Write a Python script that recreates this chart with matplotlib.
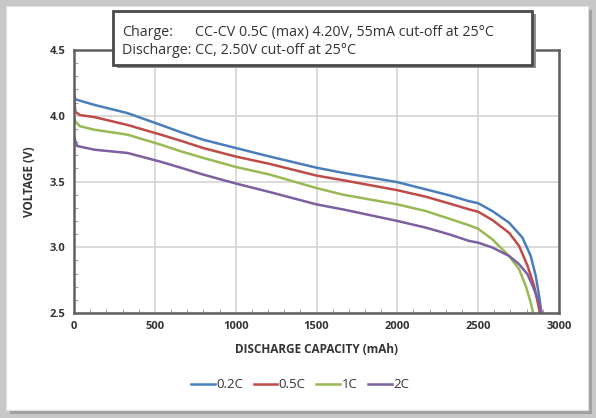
import matplotlib
matplotlib.use('Agg')
import matplotlib.pyplot as plt
from matplotlib.patches import Rectangle
from matplotlib.ticker import MultipleLocator, FormatStrFormatter

plt.rcParams['font.family'] = ['Open Sans', 'DejaVu Sans']

# discharge curves (mAh, V)
cap_02 = [0, 8, 125, 331, 537, 660, 798, 1000, 1210, 1500, 1663, 2000, 2177, 2321, 2444, 2500,
          2588, 2691, 2774, 2825, 2856, 2877, 2891]
v_02 = [4.16, 4.125, 4.083, 4.02, 3.93, 3.875, 3.818, 3.755, 3.69, 3.605, 3.566, 3.495, 3.44, 3.395,
        3.35, 3.335, 3.275, 3.187, 3.073, 2.934, 2.783, 2.63, 2.5]

cap_05 = [0, 8, 37, 125, 331, 537, 660, 798, 1000, 1210, 1500, 1663, 2000, 2177, 2321, 2444, 2500,
          2588, 2691, 2753, 2805, 2846, 2872, 2881]
v_05 = [4.18, 4.03, 4.005, 3.99, 3.93, 3.856, 3.81, 3.755, 3.69, 3.634, 3.545, 3.51, 3.434, 3.384,
        3.333, 3.288, 3.27, 3.207, 3.11, 3.01, 2.86, 2.707, 2.56, 2.5]

cap_1 = [0, 8, 37, 125, 331, 537, 660, 798, 1000, 1210, 1500, 1663, 2000, 2177, 2321, 2444, 2500,
         2588, 2691, 2753, 2794, 2825, 2840]
v_1 = [3.99, 3.957, 3.92, 3.894, 3.856, 3.78, 3.73, 3.68, 3.611, 3.553, 3.45, 3.40, 3.326, 3.275,
       3.217, 3.167, 3.14, 3.06, 2.934, 2.833, 2.707, 2.58, 2.5]

cap_2 = [0, 5, 20, 125, 331, 537, 660, 798, 1000, 1210, 1500, 1663, 2000, 2177, 2321, 2444, 2500,
         2588, 2691, 2753, 2805, 2846, 2877, 2893]
v_2 = [3.85, 3.82, 3.77, 3.742, 3.717, 3.65, 3.605, 3.553, 3.485, 3.42, 3.326, 3.288, 3.20, 3.149,
       3.098, 3.048, 3.035, 2.998, 2.934, 2.871, 2.795, 2.68, 2.58, 2.5]

labels = ['0.2C', '0.5C', '1C', '2C']
colors = ['#4a7ebb', '#be4b48', '#98b954', '#7d60a0']

fig = plt.figure(figsize=(5.96, 4.18), dpi=100, facecolor='#c8c8c8')

# white panel with shadow (behind everything)
fig.patches.append(Rectangle((10/596, 4/418), 582/596, 404/418, transform=fig.transFigure,
                             facecolor='#a0a0a0', edgecolor='none', zorder=-3))
fig.patches.append(Rectangle((6/596, 8/418), 582/596, 404/418, transform=fig.transFigure,
                             facecolor='white', edgecolor='#e0e0e0', lw=0.8, zorder=-2))

ax = fig.add_axes([74/596, 1 - 313/418, 485/596, 263/418])
ax.patch.set_alpha(0)
for c, v, lab, col in zip([cap_02, cap_05, cap_1, cap_2], [v_02, v_05, v_1, v_2], labels, colors):
    ax.plot(c, v, '-', color=col, lw=1.8, label=lab)

ax.set_xlim(0, 3000)
ax.set_ylim(2.5, 4.5)
ax.xaxis.set_major_locator(MultipleLocator(500))
ax.yaxis.set_major_locator(MultipleLocator(0.5))
ax.xaxis.set_minor_locator(MultipleLocator(100))
ax.yaxis.set_minor_locator(MultipleLocator(0.1))
ax.yaxis.set_major_formatter(FormatStrFormatter('%.1f'))
ax.grid(True, which='major', color='#d4d4d4', lw=1.2)
ax.set_axisbelow(True)
ax.tick_params(which='major', length=0, pad=6, labelsize=8, labelcolor='#333333')
ax.tick_params(which='minor', direction='in', length=3, color='#909090')
for t in ax.get_xticklabels() + ax.get_yticklabels():
    t.set_fontweight('bold')
for s in ax.spines.values():
    s.set_color('#606060')
    s.set_linewidth(1.8)

ax.set_xlabel('DISCHARGE CAPACITY (mAh)', fontsize=8.5, fontweight='bold', color='#333333', labelpad=8)
ax.set_ylabel('VOLTAGE (V)', fontsize=8.5, fontweight='bold', color='#333333', labelpad=10)

fig.legend(loc='center', bbox_to_anchor=(300/596, 1 - 385/418), ncol=4, frameon=False,
           fontsize=9.5, handlelength=1.8, handletextpad=0.1, columnspacing=0.8,
           labelcolor='#333333')

# conditions box
fig.patches.append(Rectangle((117/596, 1 - 68/418), 419/596, 54/418, transform=fig.transFigure,
                             facecolor='#909090', edgecolor='none', zorder=5))
fig.patches.append(Rectangle((113/596, 1 - 65/418), 419/596, 54/418, transform=fig.transFigure,
                             facecolor='white', edgecolor='#4a4a4a', lw=2, zorder=6))
box_font = dict(fontsize=10.3, color='#333333', va='baseline', zorder=7)
fig.text(122/596, 1 - 36/418, 'Charge:', **box_font)
fig.text(195/596, 1 - 36/418, 'CC-CV 0.5C (max) 4.20V, 55mA cut-off at 25°C', **box_font)
fig.text(122/596, 1 - 54/418, 'Discharge: CC, 2.50V cut-off at 25°C', **box_font)

fig.savefig('out.png', dpi=100, facecolor=fig.get_facecolor())
